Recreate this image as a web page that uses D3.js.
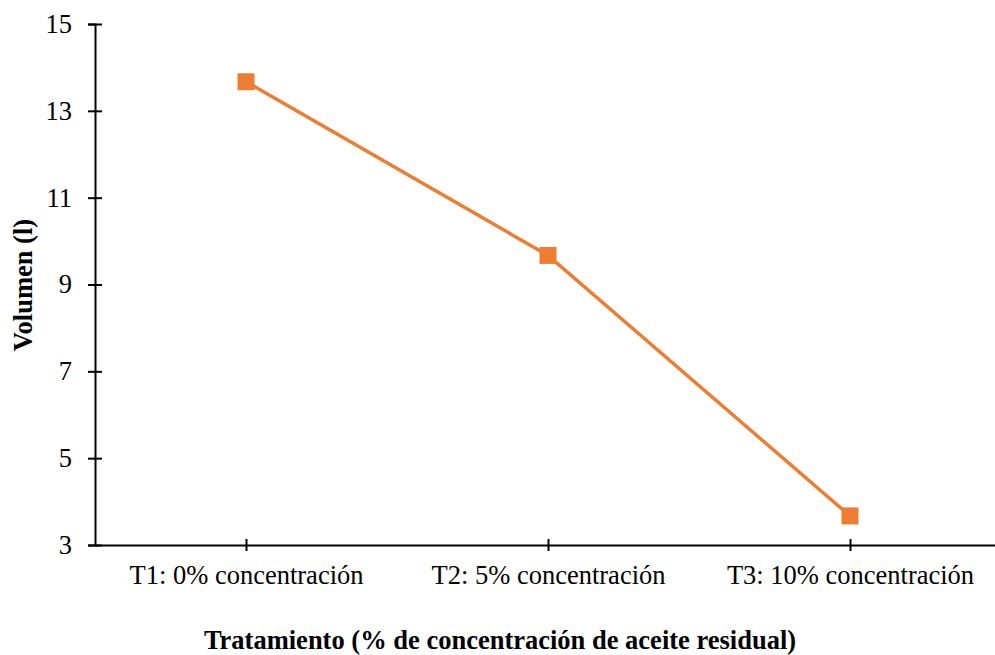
<!DOCTYPE html>
<html>
<head>
<meta charset="utf-8">
<script src="https://cdn.jsdelivr.net/npm/d3@7"></script>
<style>
  body { margin: 0; background: #fff; }
</style>
</head>
<body>
<svg id="chart"></svg>
<script>
let categories = ['T1: 0% concentración', 'T2: 5% concentración', 'T3: 10% concentración']
let volumes = [13.67, 9.67, 3.67]
let yTicks = [3, 5, 7, 9, 11, 13, 15]

let width = 995,
    height = 655,
    plotLeft = 95,
    plotTop = 24,
    plotBottom = 545,
    plotRight = 1001,
    orange = '#ED7D31',
    font = 'Liberation Serif',
    fontSize = '26.5px'

let $svg = d3.select('#chart')
    .attr('width', width)
    .attr('height', height)

let xScale = d3.scalePoint()
    .domain(categories)
    .range([plotLeft, plotRight])
    .padding(0.5)

let yScale = d3.scaleLinear()
    .domain([3, 15])
    .range([plotBottom, plotTop])

// y axis
let yAxis = $svg.append('g')
    .attr('transform', 'translate(' + plotLeft + ',0)')
    .call(d3.axisLeft(yScale).tickValues(yTicks).tickSize(7).tickPadding(16))
yAxis.attr('font-family', null).attr('font-size', null)
yAxis.select('.domain').attr('stroke', '#000').attr('stroke-width', 2)
yAxis.selectAll('.tick line')
    .attr('x1', 7).attr('x2', -7)
    .attr('stroke', '#000').attr('stroke-width', 2)
yAxis.selectAll('text')
    .style('font-family', font).style('font-size', fontSize).attr('fill', '#000')

// x axis
let xAxis = $svg.append('g')
    .attr('transform', 'translate(0,' + plotBottom + ')')
    .call(d3.axisBottom(xScale).tickSize(6).tickSizeOuter(0).tickPadding(14))
xAxis.attr('font-family', null).attr('font-size', null)
xAxis.select('.domain').attr('stroke', '#000').attr('stroke-width', 2)
xAxis.selectAll('.tick line')
    .attr('y1', -6).attr('y2', 6)
    .attr('stroke', '#000').attr('stroke-width', 2)
xAxis.selectAll('text')
    .style('font-family', font).style('font-size', fontSize).attr('fill', '#000')

let data = categories.map((c, i) => ({ cat: c, val: volumes[i] }))

let lineFunction = d3.line()
    .x(d => xScale(d.cat))
    .y(d => yScale(d.val))

$svg.append('path')
    .attr('d', lineFunction(data))
    .attr('fill', 'none')
    .attr('stroke', orange)
    .attr('stroke-width', 3.5)

let s = 17
$svg.selectAll('rect.marker').data(data).enter().append('rect')
    .attr('class', 'marker')
    .attr('x', d => xScale(d.cat) - s / 2)
    .attr('y', d => yScale(d.val) - s / 2)
    .attr('width', s)
    .attr('height', s)
    .attr('fill', orange)

// axis titles
$svg.append('text')
    .attr('x', 500)
    .attr('y', 649)
    .attr('text-anchor', 'middle')
    .style('font-family', font)
    .style('font-size', fontSize)
    .style('font-weight', 'bold')
    .text('Tratamiento (% de concentración de aceite residual)')

$svg.append('text')
    .attr('transform', 'translate(32,285) rotate(-90)')
    .attr('text-anchor', 'middle')
    .style('font-family', font)
    .style('font-size', fontSize)
    .style('font-weight', 'bold')
    .text('Volumen (l)')
</script>
</body>
</html>
